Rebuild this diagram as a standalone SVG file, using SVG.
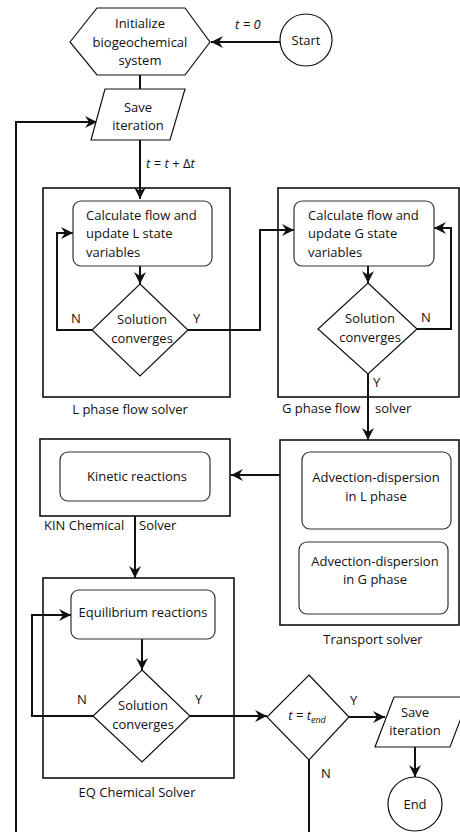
<svg xmlns="http://www.w3.org/2000/svg" width="460" height="832" viewBox="0 0 460 832">
<style>
text{font-family:"Open Sans","Liberation Sans",sans-serif;font-size:13px;fill:#111}
.m{text-anchor:middle}
.it{font-style:italic}
.shape{fill:#fff;stroke:#111;stroke-width:1.2}
.rr{fill:#fff;stroke:#333;stroke-width:1.2}
.box{fill:none;stroke:#111;stroke-width:1.6}
.c{fill:none;stroke:#111;stroke-width:2}
.ca{fill:none;stroke:#111;stroke-width:2;marker-end:url(#ah)}
</style>
<defs>
<marker id="ah" markerUnits="userSpaceOnUse" markerWidth="14" markerHeight="14" viewBox="0 0 14 14" refX="13" refY="7" orient="auto">
<path d="M1,1 L13,7 L1,13 L5,7 z" fill="#111"/>
</marker>
</defs>
<rect width="460" height="832" fill="#fff"/>
<g id="solver-boxes">
<g id="L-box"><rect class="box" x="43" y="188" width="187" height="209"/><text class="m" x="130" y="414">L phase flow solver</text></g>
<g id="G-box"><rect class="box" x="278" y="188" width="181" height="209"/><text x="282" y="413">G phase flow<tspan x="375">solver</tspan></text></g>
<g id="KIN-box"><rect class="box" x="40" y="439" width="190" height="77"/><text x="44" y="530">KIN Chemical<tspan x="139">Solver</tspan></text></g>
<g id="T-box"><rect class="box" x="280" y="440" width="179" height="185"/><text class="m" x="373" y="644">Transport solver</text></g>
<g id="EQ-box"><rect class="box" x="43" y="578" width="191" height="200"/><text class="m" x="137" y="797">EQ Chemical Solver</text></g>
</g>
<g id="connectors">
<path class="ca" d="M280,42 L211,42"/>
<path class="c" d="M140,75 L140,89"/>
<path class="ca" d="M140,140 L140,199"/>
<path class="ca" d="M140,266 L140,284"/>
<path class="ca" d="M92,330 L57,330 L57,233 L73,233"/>
<path class="ca" d="M188,330 L260,330 L260,230 L294,230"/>
<path class="ca" d="M368,266 L368,283"/>
<path class="ca" d="M417,329 L451,329 L451,228 L434,228"/>
<path class="ca" d="M368,374 L368,440"/>
<path class="ca" d="M280,475 L231,475"/>
<path class="ca" d="M135,516 L135,578"/>
<path class="ca" d="M142,639 L142,670"/>
<path class="ca" d="M93,716 L32,716 L32,615 L71,615"/>
<path class="ca" d="M190,716 L267,716"/>
<path class="ca" d="M349,717 L385,717"/>
<path class="ca" d="M415,747 L415,777"/>
<path class="c" d="M309,760 L309,832"/>
<path class="ca" d="M16,832 L16,122 L97,122"/>
<text class="it" x="235" y="29">t = 0</text>
<text x="146" y="168"><tspan class="it">t</tspan> = <tspan class="it">t</tspan> + Δ<tspan class="it">t</tspan></text>
<text x="71" y="323">N</text>
<text x="193" y="323">Y</text>
<text x="421" y="322">N</text>
<text x="373" y="387">Y</text>
<text x="77" y="704">N</text>
<text x="195" y="704">Y</text>
<text x="350" y="705">Y</text>
<text x="321" y="778">N</text>
</g>
<g id="start"><circle class="shape" cx="306" cy="40" r="26"/><text class="m" x="306" y="45">Start</text></g>
<g id="init"><polygon class="shape" points="70,42 97,8 185,8 210,42 185,75 97,75"/><text class="m" x="140" y="28">Initialize</text><text class="m" x="140" y="47">biogeochemical</text><text class="m" x="140" y="65">system</text></g>
<g id="save1"><polygon class="shape" points="105,89 185,89 170,140 91,140"/><text class="m" x="138" y="112">Save</text><text class="m" x="138" y="130">iteration</text></g>
<g id="L-calc"><rect class="rr" x="73" y="201" width="139" height="65" rx="8"/><text x="86" y="220">Calculate flow and</text><text x="86" y="238">update L state</text><text x="86" y="257">variables</text></g>
<g id="L-conv"><polygon class="shape" points="140,284 188,330 140,376 92,330"/><text class="m" x="142" y="324">Solution</text><text class="m" x="142" y="343">converges</text></g>
<g id="G-calc"><rect class="rr" x="294" y="201" width="140" height="65" rx="8"/><text x="308" y="220">Calculate flow and</text><text x="308" y="238">update G state</text><text x="308" y="257">variables</text></g>
<g id="G-conv"><polygon class="shape" points="368,283 417,329 368,374 318,329"/><text class="m" x="370" y="323">Solution</text><text class="m" x="370" y="342">converges</text></g>
<g id="kin"><rect class="rr" x="60" y="452" width="150" height="49" rx="8"/><text class="m" x="137" y="481">Kinetic reactions</text></g>
<g id="adv-L"><rect class="rr" x="302" y="452" width="149" height="77" rx="8"/><text class="m" x="376" y="482">Advection-dispersion</text><text class="m" x="376" y="501">in L phase</text></g>
<g id="adv-G"><rect class="rr" x="299" y="542" width="149" height="72" rx="8"/><text class="m" x="375" y="566">Advection-dispersion</text><text class="m" x="375" y="584">in G phase</text></g>
<g id="eq"><rect class="rr" x="71" y="590" width="144" height="49" rx="8"/><text class="m" x="143" y="617">Equilibrium reactions</text></g>
<g id="EQ-conv"><polygon class="shape" points="142,670 190,716 142,762 93,716"/><text class="m" x="143" y="710">Solution</text><text class="m" x="143" y="729">converges</text></g>
<g id="tend"><polygon class="shape" points="309,675 349,717 309,760 267,717"/><text class="m it" x="307" y="720">t = t<tspan font-size="9" dy="3">end</tspan></text></g>
<g id="save2"><polygon class="shape" points="394,697 469,697 450,747 375,747"/><text class="m" x="415" y="717">Save</text><text class="m" x="415" y="735">iteration</text></g>
<g id="end"><circle class="shape" cx="415" cy="804" r="27"/><text class="m" x="415" y="809">End</text></g>
</svg>
